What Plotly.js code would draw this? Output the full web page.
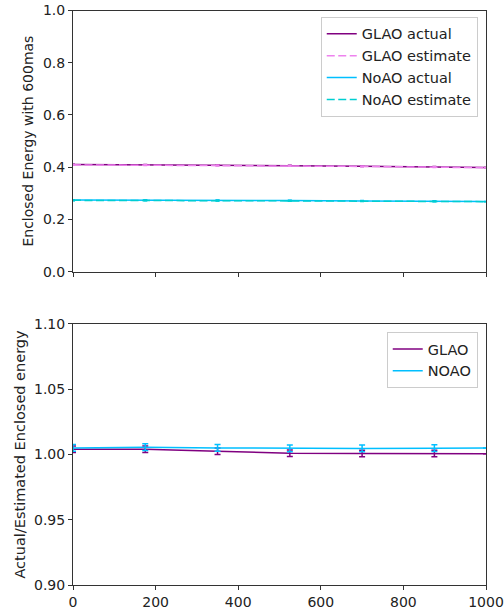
<!DOCTYPE html>
<html><head><meta charset="utf-8">
<script src="https://cdn.plot.ly/plotly-3.0.1.min.js"></script>
<style>html,body{margin:0;padding:0;background:#fff}#c{width:504px;height:611px}</style>
</head><body><div id="c"></div>
<script>
// data
const xTop = [0, 175, 350, 525, 700, 875, 1000];
const glaoActual   = [0.410, 0.409, 0.408, 0.406, 0.404, 0.401, 0.399];
const glaoEstimate = [0.409, 0.408, 0.407, 0.405, 0.403, 0.400, 0.398];
const noaoActual   = [0.274, 0.274, 0.273, 0.272, 0.271, 0.270, 0.269];
const noaoEstimate = [0.273, 0.273, 0.272, 0.271, 0.270, 0.269, 0.268];
const topErr = [0.0015, 0.0015, 0.0015, 0.0015, 0.0015, 0.0015, null];

const xBot = [0, 175, 350, 525, 700, 875, 1000];
const ratioGLAO = [1.0040, 1.0040, 1.0025, 1.0010, 1.0008, 1.0008, 1.0005];
const ratioNOAO = [1.0050, 1.0056, 1.0050, 1.0046, 1.0046, 1.0048, 1.0050];
const errGLAO = [0.0025, 0.0025, 0.0025, 0.0025, 0.0025, 0.0025, null];
const errNOAO = [0.0026, 0.0026, 0.0026, 0.0026, 0.0026, 0.0026, null];

const cPurple = '#800080', cViolet = '#EE82EE', cSky = '#00BFFF', cTurq = '#00CED1';

function eb(arr, color, w){ return {type:'data', array:arr, visible:true, color:color, thickness:1.5, width:w}; }

const traces = [
  {x:xTop, y:glaoActual, name:'GLAO actual', mode:'lines', line:{color:cPurple, width:1.5}, error_y:eb(topErr,cPurple,2), xaxis:'x', yaxis:'y', legend:'legend'},
  {x:xTop, y:glaoEstimate, name:'GLAO estimate', mode:'lines', line:{color:cViolet, width:1.5, dash:'8px,3.5px'}, error_y:eb(topErr,cViolet,2), xaxis:'x', yaxis:'y', legend:'legend'},
  {x:xTop, y:noaoActual, name:'NoAO actual', mode:'lines', line:{color:cSky, width:1.5}, error_y:eb(topErr,cSky,2), xaxis:'x', yaxis:'y', legend:'legend'},
  {x:xTop, y:noaoEstimate, name:'NoAO estimate', mode:'lines', line:{color:cTurq, width:1.5, dash:'8px,3.5px'}, error_y:eb(topErr,cTurq,2), xaxis:'x', yaxis:'y', legend:'legend'},
  {x:xBot, y:ratioGLAO, name:'GLAO', mode:'lines', line:{color:cPurple, width:1.5}, error_y:eb(errGLAO,cPurple,3), xaxis:'x2', yaxis:'y2', legend:'legend2'},
  {x:xBot, y:ratioNOAO, name:'NOAO', mode:'lines', line:{color:cSky, width:1.5}, error_y:eb(errNOAO,cSky,3), xaxis:'x2', yaxis:'y2', legend:'legend2'}
];

const axCommon = {showgrid:false, zeroline:false, showline:true, mirror:true, linecolor:'#333', linewidth:1,
  ticks:'outside', ticklen:4, tickcolor:'#333', tickfont:{size:14, color:'#222'}};

const font = 'DejaVu Sans, sans-serif';
const layout = {
  width:504, height:611,
  margin:{l:73, r:18, t:10, b:26},
  paper_bgcolor:'#fff', plot_bgcolor:'#fff',
  font:{family:font, color:'#222'},
  xaxis: Object.assign({}, axCommon, {domain:[0,1], range:[0,1000], tickvals:[0,200,400,600,800,1000], showticklabels:false, anchor:'y'}),
  yaxis: Object.assign({}, axCommon, {domain:[0.545,0.999], range:[0,1], dtick:0.2, tickformat:'.1f', anchor:'x',
    title:{text:'Enclosed Energy with 600mas', font:{size:14}, standoff:6}}),
  xaxis2: Object.assign({}, axCommon, {domain:[0,1], range:[0,1000], tickvals:[0,200,400,600,800,1000], anchor:'y2'}),
  yaxis2: Object.assign({}, axCommon, {domain:[0,0.454], range:[0.9,1.1], dtick:0.05, tickformat:'.2f', anchor:'x2',
    title:{text:'Actual/Estimated Enclosed energy', font:{size:14.5}, standoff:4}}),
  legend:{x:0.98, y:0.988, xanchor:'right', yanchor:'top', bgcolor:'#fff', bordercolor:'#ccc', borderwidth:1,
    font:{size:14.5, color:'#222'}, tracegroupgap:0},
  legend2:{x:0.98, y:0.44, xanchor:'right', yanchor:'top', bgcolor:'#fff', bordercolor:'#ccc', borderwidth:1,
    font:{size:14.5, color:'#222'}},
  showlegend:true
};
Plotly.newPlot('c', traces, layout, {displayModeBar:false, staticPlot:true});
</script></body></html>
